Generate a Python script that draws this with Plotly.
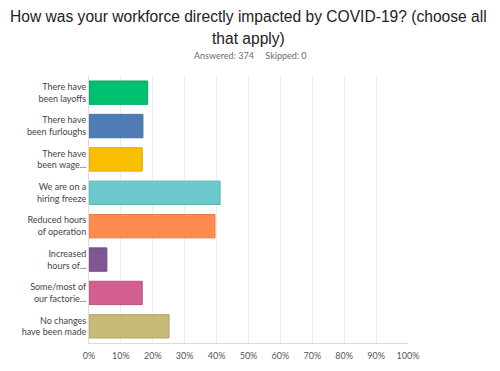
import plotly.graph_objects as go

categories = [
    "There have<br>been layoffs",
    "There have<br>been furloughs",
    "There have<br>been wage...",
    "We are on a<br>hiring freeze",
    "Reduced hours<br>of operation",
    "Increased<br>hours of...",
    "Some/most of<br>our factorie...",
    "No changes<br>have been made",
]
values = [18.4, 16.9, 16.7, 41.1, 39.5, 5.6, 16.7, 25.1]
colors = ["#00BF6F", "#507CB6", "#F9BE00", "#6BC8CD", "#FF8B4F", "#7F5691", "#D25F90", "#C9B977"]
borders = ["#00A862", "#466DA0", "#DDA800", "#5FB2B6", "#E57C46", "#704B80", "#BA5480", "#B3A46A"]
tick_vals = [0, 10, 20, 30, 40, 50, 60, 70, 80, 90, 100]
tick_text = ["0%", "10%", "20%", "30%", "40%", "50%", "60%", "70%", "80%", "90%", "100%"]

title_font = dict(family="Liberation Sans, Arial, sans-serif", size=15.6, color="#222222")

fig = go.Figure(go.Bar(
    x=values, y=categories, orientation="h",
    marker=dict(color=colors, line=dict(color=borders, width=1)),
    width=0.7,
))

fig.update_layout(
    width=492, height=363,
    margin=dict(l=81, r=92, t=68, b=28, autoexpand=False),
    paper_bgcolor="white", plot_bgcolor="white",
    showlegend=False,
    annotations=[
        dict(text="How was your workforce directly impacted by COVID-19? (choose all",
             xref="paper", yref="paper", x=0.5, y=1.0, yshift=60,
             xanchor="center", yanchor="middle", showarrow=False, font=title_font),
        dict(text="that apply)",
             xref="paper", yref="paper", x=0.5, y=1.0, yshift=38,
             xanchor="center", yanchor="middle", showarrow=False, font=title_font),
        dict(text="Answered: 374&nbsp;&nbsp;&nbsp;&nbsp;&nbsp;Skipped: 0",
             xref="paper", yref="paper", x=0.505, y=1.0, yshift=21,
             xanchor="center", yanchor="middle", showarrow=False,
             font=dict(family="Lato, sans-serif", size=9, color="#6b6b6b")),
    ],
    xaxis=dict(
        range=[0, 100], tickvals=tick_vals, ticktext=tick_text,
        showgrid=True, gridcolor="#ececec", gridwidth=1,
        zeroline=False, showline=True, linecolor="#dcdcdc",
        ticks="", ticklabelstandoff=4, automargin=False,
        tickfont=dict(family="Lato, sans-serif", size=9, color="#555555"),
        fixedrange=True,
    ),
    yaxis=dict(
        autorange="reversed", showline=True, linecolor="#dcdcdc",
        showgrid=False, ticks="", ticklabelstandoff=0, automargin=False,
        tickfont=dict(family="Lato, sans-serif", size=9, color="#444444"),
    ),
    bargap=0.3,
)

fig.write_html("out.html")
